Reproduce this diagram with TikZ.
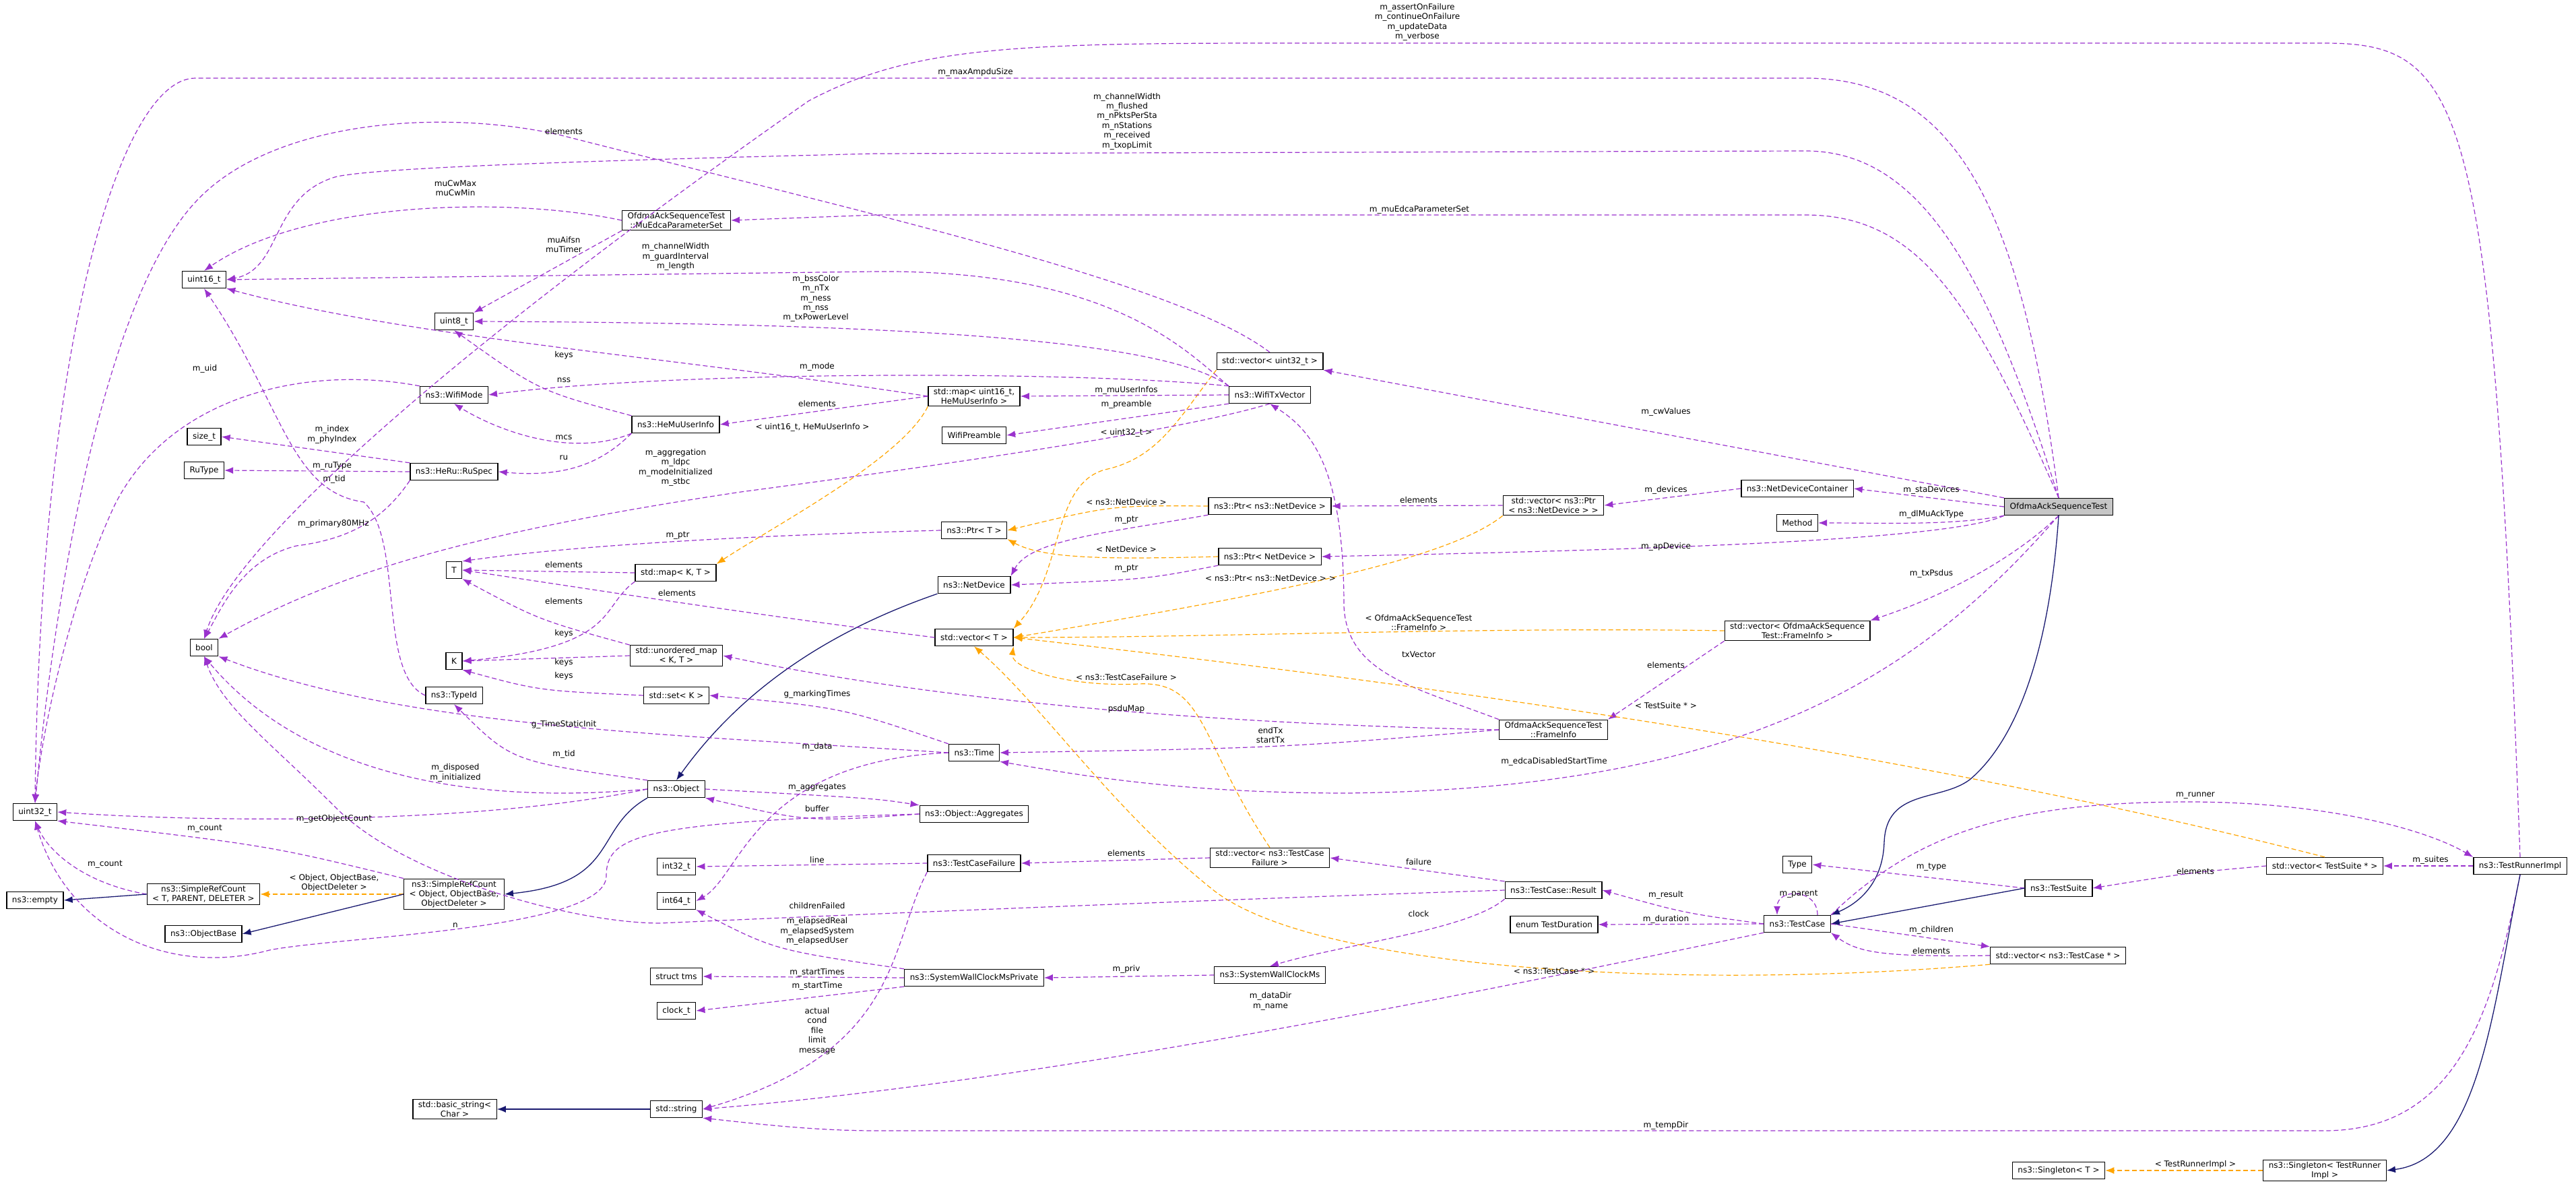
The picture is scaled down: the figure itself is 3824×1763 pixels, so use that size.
\documentclass[tikz,border=0pt]{standalone}
\usepackage{fontspec}
\setmainfont{DejaVu Sans}
\usetikzlibrary{arrows.meta,calc}
\definecolor{pur}{HTML}{9A32CD}
\definecolor{org}{HTML}{FFA500}
\definecolor{nav}{HTML}{191970}
\begin{document}
\begin{tikzpicture}[x=1pt,y=-1pt,
 box/.style={draw=black,line width=1.3pt,fill=white,rectangle,align=center,inner xsep=8pt,inner ysep=3pt,minimum height=25pt,font=\fontsize{12}{14}\selectfont},
 lbl/.style={align=center,inner sep=0pt,font=\fontsize{12}{14.4}\selectfont},
 mem/.style={draw=pur,line width=1.2pt,dash pattern=on 7pt off 4pt,-{Latex[length=13pt,width=10pt]}},
 tpl/.style={draw=org,line width=1.2pt,dash pattern=on 7pt off 4pt,-{Latex[length=13pt,width=10pt]}},
 inh/.style={draw=nav,line width=1.3pt,-{Latex[length=13pt,width=10pt]}}]
\useasboundingbox (0,0) rectangle (3824,1763);
% nodes
\node[box,fill=gray!45] (ofdma) at (3056,752) {OfdmaAckSequenceTest};
\node[box] (mu) at (1004,327) {OfdmaAckSequenceTest\\::MuEdcaParameterSet};
\node[box] (u16) at (303,415) {uint16\_t};
\node[box] (u8) at (674,477) {uint8\_t};
\node[box] (wmode) at (674,586) {ns3::WifiMode};
\node[box] (sizet) at (303,648) {size\_t};
\node[box] (rutype) at (303,698) {RuType};
\node[box] (ruspec) at (674,700) {ns3::HeRu::RuSpec};
\node[box] (hemu) at (1003,630) {ns3::HeMuUserInfo};
\node[box] (T) at (674,846) {T};
\node[box] (mapKT) at (1003,850) {std::map\textless{} K, T \textgreater};
\node[box] (vec32) at (1885,536) {std::vector\textless{} uint32\_t \textgreater};
\node[box] (wtx) at (1885,586) {ns3::WifiTxVector};
\node[box] (mapU) at (1446,588) {std::map\textless{} uint16\_t,\\HeMuUserInfo \textgreater};
\node[box] (wpre) at (1446,646) {WifiPreamble};
\node[box] (ptrnsnd) at (1885,751) {ns3::Ptr\textless{} ns3::NetDevice \textgreater};
\node[box] (vecptr) at (2306,750) {std::vector\textless{} ns3::Ptr\\\textless{} ns3::NetDevice \textgreater{} \textgreater};
\node[box] (ptrT) at (1446,787) {ns3::Ptr\textless{} T \textgreater};
\node[box] (ptrnd) at (1885,826) {ns3::Ptr\textless{} NetDevice \textgreater};
\node[box] (netdev) at (1446,868) {ns3::NetDevice};
\node[box] (ndc) at (2668,725) {ns3::NetDeviceContainer};
\node[box] (method) at (2668,776) {Method};
\node[box] (bool) at (303,961) {bool};
\node[box] (K) at (674,981) {K};
\node[box] (umap) at (1004,973) {std::unordered\_map\\\textless{} K, T \textgreater};
\node[box] (set) at (1004,1032) {std::set\textless{} K \textgreater};
\node[box] (typeid) at (674,1032) {ns3::TypeId};
\node[box] (obj) at (1004,1171) {ns3::Object};
\node[box] (u32) at (52,1205) {uint32\_t};
\node[box] (srct) at (302,1327) {ns3::SimpleRefCount\\\textless{} T, PARENT, DELETER \textgreater};
\node[box] (empty) at (52,1336) {ns3::empty};
\node[box] (srco) at (674,1327) {ns3::SimpleRefCount\\\textless{} Object, ObjectBase,\\ObjectDeleter \textgreater};
\node[box] (objbase) at (302,1386) {ns3::ObjectBase};
\node[box] (i32) at (1004,1286) {int32\_t};
\node[box] (i64) at (1004,1337) {int64\_t};
\node[box] (tms) at (1004,1449) {struct tms};
\node[box] (clock) at (1004,1500) {clock\_t};
\node[box] (bstr) at (675,1646) {std::basic\_string\textless\\Char \textgreater};
\node[box] (str) at (1004,1646) {std::string};
\node[box] (vecT) at (1446,946) {std::vector\textless{} T \textgreater};
\node[box] (fi) at (2306,1083) {OfdmaAckSequenceTest\\::FrameInfo};
\node[box] (time) at (1446,1117) {ns3::Time};
\node[box] (agg) at (1446,1208) {ns3::Object::Aggregates};
\node[box] (tcf) at (1446,1281) {ns3::TestCaseFailure};
\node[box] (vectcf) at (1885,1273) {std::vector\textless{} ns3::TestCase\\Failure \textgreater};
\node[box] (res) at (2306,1321) {ns3::TestCase::Result};
\node[box] (dur) at (2307,1372) {enum TestDuration};
\node[box] (swcp) at (1446,1451) {ns3::SystemWallClockMsPrivate};
\node[box] (swc) at (1885,1447) {ns3::SystemWallClockMs};
\node[box] (vecfi) at (2668,936) {std::vector\textless{} OfdmaAckSequence\\Test::FrameInfo \textgreater};
\node[box] (type) at (2668,1283) {Type};
\node[box] (ts) at (3056,1318) {ns3::TestSuite};
\node[box] (tc) at (2668,1371) {ns3::TestCase};
\node[box] (vects) at (3451,1285) {std::vector\textless{} TestSuite * \textgreater};
\node[box] (tri) at (3741,1285) {ns3::TestRunnerImpl};
\node[box] (vectc) at (3055,1418) {std::vector\textless{} ns3::TestCase * \textgreater};
\node[box] (st) at (3056,1737) {ns3::Singleton\textless{} T \textgreater};
\node[box] (stri) at (3451,1737) {ns3::Singleton\textless{} TestRunner\\Impl \textgreater};
% edges
\draw[mem] (tri.north) .. controls (3700,150) and (3660,64) .. (3450,64) -- (1900,64) .. controls (1500,64) and (1350,70) .. (1200,150) .. controls (700,500) and (350,800) .. (bool.north);
\draw[mem] (ofdma.north) .. controls (3000,300) and (2900,116) .. (2680,116) -- (290,116) .. controls (180,116) and (60,500) .. (u32.north);
\draw[mem] (ofdma.north) .. controls (2950,400) and (2850,224) .. (2680,224) -- (1300,228) .. controls (800,240) and (560,250) .. (500,262) .. controls (400,290) and (420,400) .. (u16.east);
\draw[mem] (ofdma.north) .. controls (2930,450) and (2850,319) .. (2680,319) -- (1300,319) -- (mu.east);
\draw[mem] (ofdma.north west) -- (vec32.south east);
\draw[mem] (ofdma.west) -- (ndc.east);
\draw[mem] (ofdma.south west) .. controls (2900,780) and (2800,776) .. (method.east);
\draw[mem] (ofdma.south west) .. controls (2900,800) and (2500,815) .. (ptrnd.east);
\draw[mem] (ofdma.south) .. controls (3000,820) and (2900,880) .. (vecfi.north east);
\draw[mem] (ofdma.south) .. controls (2850,1000) and (2600,1170) .. (2000,1177) .. controls (1750,1177) and (1600,1150) .. (time.south east);
\draw[inh] (ofdma.south) .. controls (3040,1000) and (2980,1110) .. (2924,1157) .. controls (2880,1190) and (2800,1170) .. (2797,1250) .. controls (2795,1310) and (2760,1340) .. (tc.north east);
\draw[mem] (ndc.west) -- (vecptr.east);
\draw[mem] (vecptr.west) -- (ptrnsnd.east);
\draw[tpl] (vecptr.south west) .. controls (2150,830) and (1900,880) .. (vecT.east);
\draw[tpl] (ptrnsnd.west) .. controls (1650,750) .. (ptrT.east);
\draw[mem] (ptrnsnd.south west) .. controls (1650,790) and (1530,800) .. (netdev.north east);
\draw[tpl] (ptrnd.west) .. controls (1650,830) and (1550,830) .. (ptrT.south east);
\draw[mem] (ptrnd.south west) .. controls (1700,860) .. (netdev.east);
\draw[mem] (ptrT.west) .. controls (1100,795) and (850,810) .. (T.north east);
\draw[inh] (netdev.south west) .. controls (1250,930) and (1110,1010) .. (obj.north);
\draw[mem] (vecT.west) .. controls (1100,910) and (850,870) .. (T.east);
\draw[mem] (mapKT.west) -- (T.east);
\draw[mem] (umap.north west) .. controls (800,920) .. (T.south east);
\draw[mem] (mapKT.south west) .. controls (890,900) and (920,960) .. (K.east);
\draw[mem] (umap.west) -- (K.east);
\draw[mem] (set.west) .. controls (800,1025) .. (K.south east);
\draw[mem] (mapU.west) -- (hemu.east);
\draw[mem] (mapU.west) .. controls (1000,530) and (600,500) .. (u16.south east);
\draw[tpl] (mapU.south west) .. controls (1340,680) and (1150,780) .. (mapKT.north east);
\draw[mem] (vec32.north) .. controls (1750,420) and (1300,320) .. (830,200) .. controls (650,160) and (400,180) .. (290,300) .. controls (150,450) and (80,900) .. (u32.north);
\draw[tpl] (vec32.south west) .. controls (1750,620) and (1720,680) .. (1640,697) .. controls (1560,720) and (1580,850) .. (vecT.north east);
\draw[mem] (wtx.west) -- (mapU.east);
\draw[mem] (wtx.south west) -- (wpre.east);
\draw[mem] (wtx.north west) .. controls (1600,550) and (1000,550) .. (wmode.east);
\draw[mem] (wtx.north west) .. controls (1750,520) and (1500,480) .. (u8.east);
\draw[mem] (wtx.north west) .. controls (1760,520) and (1650,400) .. (1300,403) -- (u16.east);
\draw[mem] (wtx.south) .. controls (1750,640) and (1400,690) .. (1100,730) .. controls (700,790) and (500,850) .. (bool.north east);
\draw[mem] (mu.west) .. controls (750,290) and (450,300) .. (u16.north);
\draw[mem] (mu.south west) -- (u8.north east);
\draw[mem] (hemu.north west) .. controls (800,580) .. (u8.south);
\draw[mem] (hemu.south west) .. controls (850,680) and (740,640) .. (wmode.south);
\draw[mem] (hemu.south west) .. controls (900,680) and (850,710) .. (ruspec.east);
\draw[mem] (wmode.north west) .. controls (450,540) and (250,590) .. (170,750) .. controls (100,900) and (60,1100) .. (u32.north);
\draw[mem] (ruspec.north west) -- (sizet.east);
\draw[mem] (ruspec.west) -- (rutype.east);
\draw[mem] (ruspec.south west) .. controls (570,770) and (520,800) .. (440,810) .. controls (360,830) and (330,900) .. (bool.north);
\draw[mem] (typeid.west) .. controls (560,1000) and (600,800) .. (540,745) .. controls (430,730) and (420,600) .. (u16.south);
\draw[mem] (obj.north west) .. controls (760,1130) .. (typeid.south);
\draw[mem] (obj.west) .. controls (700,1195) and (450,1150) .. (bool.south);
\draw[mem] (obj.west) .. controls (700,1225) and (300,1220) .. (u32.east);
\draw[mem] (obj.east) .. controls (1300,1185) .. (agg.north west);
\draw[mem] (agg.west) .. controls (1200,1220) .. (obj.south east);
\draw[inh] (obj.south west) .. controls (880,1230) and (920,1310) .. (srco.east);
\draw[mem] (time.west) .. controls (1000,1090) and (600,1080) .. (bool.south east);
\draw[mem] (time.north west) .. controls (1250,1050) .. (set.east);
\draw[mem] (time.west) .. controls (1120,1130) and (1100,1300) .. (i64.east);
\draw[mem] (srco.north west) .. controls (400,1255) .. (u32.south east);
\draw[mem] (srct.west) .. controls (120,1310) and (70,1260) .. (u32.south);
\draw[tpl] (srco.west) -- (srct.east);
\draw[inh] (srct.west) -- (empty.east);
\draw[inh] (srco.west) -- (objbase.east);
\draw[mem] (tcf.west) -- (i32.east);
\draw[mem] (tcf.south west) .. controls (1320,1400) and (1340,1560) .. (str.east);
\draw[mem] (vectcf.west) -- (tcf.east);
\draw[tpl] (vectcf.north) .. controls (1780,1100) and (1790,1010) .. (1690,1015) .. controls (1580,1020) and (1500,990) .. (vecT.south east);
\draw[mem] (res.north west) .. controls (2100,1290) .. (vectcf.east);
\draw[mem] (res.south west) .. controls (2180,1380) and (2000,1400) .. (swc.north);
\draw[mem] (res.west) .. controls (1800,1335) and (1200,1360) .. (980,1370) .. controls (850,1370) and (600,1300) .. (500,1200) .. controls (400,1100) and (330,1050) .. (bool.south);
\draw[mem] (swcp.north west) .. controls (1150,1410) .. (i64.south east);
\draw[mem] (swcp.west) -- (tms.east);
\draw[mem] (swcp.south west) -- (clock.east);
\draw[mem] (swc.west) -- (swcp.east);
\draw[mem] (agg.west) .. controls (950,1220) and (900,1240) .. (900,1300) .. controls (900,1380) and (500,1390) .. (400,1410) .. controls (250,1450) and (100,1380) .. (u32.south);
\draw[tpl] (vecfi.west) .. controls (2200,930) and (1800,946) .. (vecT.east);
\draw[mem] (vecfi.south west) -- (fi.north east);
\draw[mem] (fi.north west) .. controls (2100,1020) and (2000,1000) .. (1995,900) .. controls (1995,700) and (1950,640) .. (wtx.south);
\draw[mem] (fi.west) .. controls (1600,1070) and (1250,1010) .. (umap.east);
\draw[mem] (fi.west) .. controls (1900,1110) .. (time.east);
\draw[tpl] (vects.north) .. controls (2700,1080) and (1800,980) .. (vecT.east);
\draw[mem] (vects.west) .. controls (3250,1295) .. (ts.east);
\draw[mem] (tri.west) -- (vects.east);
\draw[mem] (tc.north east) .. controls (2850,1230) and (3000,1190) .. (3250,1190) .. controls (3450,1190) and (3600,1230) .. (tri.north west);
\draw[mem] (ts.west) -- (type.east);
\draw[inh] (ts.west) -- (tc.east);
\draw[mem] ($(tc.north)+(30,0)$) .. controls ($(tc.north)+(30,-40)$) and ($(tc.north)+(-30,-40)$) .. ($(tc.north)+(-30,0)$);
\draw[mem] (tc.east) .. controls (2850,1390) .. (vectc.north west);
\draw[mem] (vectc.west) .. controls (2800,1420) and (2760,1415) .. (tc.south east);
\draw[tpl] (vectc.south west) .. controls (2500,1470) and (1950,1440) .. (1800,1320) .. controls (1650,1200) and (1550,1050) .. (vecT.south);
\draw[mem] (tc.west) .. controls (2500,1355) .. (res.east);
\draw[mem] (tc.west) -- (dur.east);
\draw[mem] (tc.south west) .. controls (2300,1450) and (1600,1600) .. (str.east);
\draw[mem] (tri.south) .. controls (3700,1500) and (3650,1678) .. (3450,1678) -- (1300,1678) .. controls (1200,1678) and (1100,1665) .. (str.south east);
\draw[inh] (tri.south) .. controls (3700,1500) and (3680,1720) .. (stri.east);
\draw[tpl] (stri.west) -- (st.east);
\draw[inh] (str.west) -- (bstr.east);
% labels
\node[lbl] (l1) at (2104,33) {m\_assertOnFailure\\m\_continueOnFailure\\m\_updateData\\m\_verbose};
\node[lbl] (l2) at (1448,107) {m\_maxAmpduSize};
\node[lbl] (l3) at (1673,180) {m\_channelWidth\\m\_flushed\\m\_nPktsPerSta\\m\_nStations\\m\_received\\m\_txopLimit};
\node[lbl] (l4) at (2107,311) {m\_muEdcaParameterSet};
\node[lbl] (l5) at (2473,611) {m\_cwValues};
\node[lbl] (l6) at (2867,727) {m\_staDevices};
\node[lbl] (l7) at (2867,763) {m\_dlMuAckType};
\node[lbl] (l8) at (2473,811) {m\_apDevice};
\node[lbl] (l9) at (2867,851) {m\_txPsdus};
\node[lbl] (l10) at (2307,1130) {m\_edcaDisabledStartTime};
\node[lbl] (l11) at (2473,727) {m\_devices};
\node[lbl] (l12) at (2106,742) {elements};
\node[lbl] (l13) at (1886,858) {\textless{} ns3::Ptr\textless{} ns3::NetDevice \textgreater{} \textgreater};
\node[lbl] (l14) at (1672,745) {\textless{} ns3::NetDevice \textgreater};
\node[lbl] (l15) at (1672,772) {m\_ptr};
\node[lbl] (l16) at (1672,815) {\textless{} NetDevice \textgreater};
\node[lbl] (l17) at (1672,844) {m\_ptr};
\node[lbl] (l18) at (1006,795) {m\_ptr};
\node[lbl] (l19) at (1005,880) {elements};
\node[lbl] (l20) at (837,838) {elements};
\node[lbl] (l21) at (837,892) {elements};
\node[lbl] (l22) at (837,940) {keys};
\node[lbl] (l23) at (837,983) {keys};
\node[lbl] (l24) at (837,1003) {keys};
\node[lbl] (l25) at (1213,599) {elements};
\node[lbl] (l26) at (837,527) {keys};
\node[lbl] (l27) at (1206,634) {\textless{} uint16\_t, HeMuUserInfo \textgreater};
\node[lbl] (l28) at (837,195) {elements};
\node[lbl] (l29) at (1672,642) {\textless{} uint32\_t \textgreater};
\node[lbl] (l30) at (1672,579) {m\_muUserInfos};
\node[lbl] (l31) at (1672,600) {m\_preamble};
\node[lbl] (l32) at (1213,544) {m\_mode};
\node[lbl] (l33) at (1211,443) {m\_bssColor\\m\_nTx\\m\_ness\\m\_nss\\m\_txPowerLevel};
\node[lbl] (l34) at (1003,381) {m\_channelWidth\\m\_guardInterval\\m\_length};
\node[lbl] (l35) at (1003,694) {m\_aggregation\\m\_ldpc\\m\_modeInitialized\\m\_stbc};
\node[lbl] (l36) at (676,279) {muCwMax\\muCwMin};
\node[lbl] (l37) at (837,363) {muAifsn\\muTimer};
\node[lbl] (l38) at (837,564) {nss};
\node[lbl] (l39) at (837,649) {mcs};
\node[lbl] (l40) at (837,679) {ru};
\node[lbl] (l41) at (304,547) {m\_uid};
\node[lbl] (l42) at (493,645) {m\_index\\m\_phyIndex};
\node[lbl] (l43) at (493,692) {m\_ruType};
\node[lbl] (l44) at (495,777) {m\_primary80MHz};
\node[lbl] (l45) at (496,711) {m\_tid};
\node[lbl] (l46) at (837,1119) {m\_tid};
\node[lbl] (l47) at (676,1147) {m\_disposed\\m\_initialized};
\node[lbl] (l48) at (496,1215) {m\_getObjectCount};
\node[lbl] (l49) at (1213,1169) {m\_aggregates};
\node[lbl] (l50) at (1213,1200) {buffer};
\node[lbl] (l51) at (837,1075) {g\_TimeStaticInit};
\node[lbl] (l52) at (1213,1030) {g\_markingTimes};
\node[lbl] (l53) at (1213,1108) {m\_data};
\node[lbl] (l54) at (304,1230) {m\_count};
\node[lbl] (l55) at (156,1283) {m\_count};
\node[lbl] (l56) at (496,1310) {\textless{} Object, ObjectBase,\\ObjectDeleter \textgreater};
\node[lbl] (l57) at (1213,1276) {line};
\node[lbl] (l58) at (1213,1530) {actual\\cond\\file\\limit\\message};
\node[lbl] (l59) at (1672,1266) {elements};
\node[lbl] (l60) at (1672,1005) {\textless{} ns3::TestCaseFailure \textgreater};
\node[lbl] (l61) at (2106,1279) {failure};
\node[lbl] (l62) at (2106,1356) {clock};
\node[lbl] (l63) at (1213,1344) {childrenFailed};
\node[lbl] (l64) at (1213,1382) {m\_elapsedReal\\m\_elapsedSystem\\m\_elapsedUser};
\node[lbl] (l65) at (1213,1443) {m\_startTimes};
\node[lbl] (l66) at (1213,1463) {m\_startTime};
\node[lbl] (l67) at (1672,1438) {m\_priv};
\node[lbl] (l68) at (676,1373) {n};
\node[lbl] (l69) at (2106,924) {\textless{} OfdmaAckSequenceTest\\::FrameInfo \textgreater};
\node[lbl] (l70) at (2473,987) {elements};
\node[lbl] (l71) at (2106,971) {txVector};
\node[lbl] (l72) at (1672,1052) {psduMap};
\node[lbl] (l73) at (1886,1091) {endTx\\startTx};
\node[lbl] (l74) at (2473,1047) {\textless{} TestSuite * \textgreater};
\node[lbl] (l75) at (3259,1293) {elements};
\node[lbl] (l76) at (3608,1276) {m\_suites};
\node[lbl] (l77) at (3259,1181) {m\_runner};
\node[lbl] (l78) at (2867,1287) {m\_type};
\node[lbl] (l79) at (2670,1327) {m\_parent};
\node[lbl] (l80) at (2867,1380) {m\_children};
\node[lbl] (l81) at (2867,1411) {elements};
\node[lbl] (l82) at (2307,1441) {\textless{} ns3::TestCase * \textgreater};
\node[lbl] (l83) at (2473,1328) {m\_result};
\node[lbl] (l84) at (2473,1364) {m\_duration};
\node[lbl] (l85) at (1886,1486) {m\_dataDir\\m\_name};
\node[lbl] (l86) at (2473,1670) {m\_tempDir};
\node[lbl] (l87) at (3259,1728) {\textless{} TestRunnerImpl \textgreater};
\end{tikzpicture}
\end{document}
